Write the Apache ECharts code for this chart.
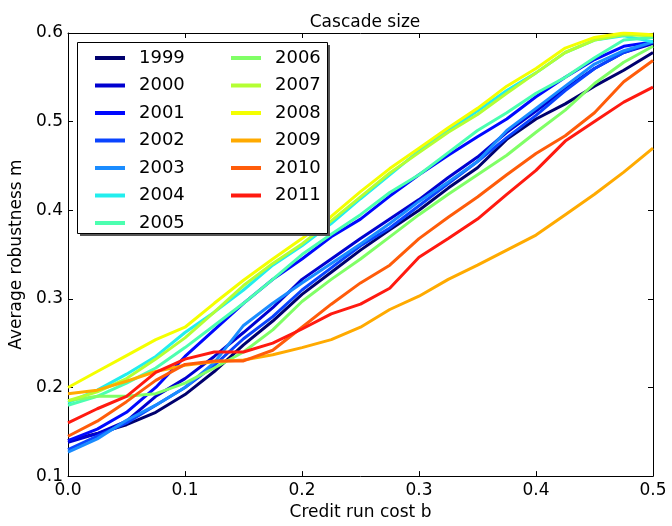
<!DOCTYPE html>
<html>
<head>
<meta charset="utf-8">
<script src="https://cdn.jsdelivr.net/npm/echarts@6/dist/echarts.min.js"></script>
<style>
  html, body { margin: 0; padding: 0; background: #fff; }
  #chart { width: 672px; height: 526px; }
</style>
</head>
<body>
<div id="chart"></div>
<script>
// credit run cost b (x)
const costB = [0, 0.025, 0.05, 0.075, 0.1, 0.125, 0.15, 0.175, 0.2, 0.225, 0.25,
  0.275, 0.3, 0.325, 0.35, 0.375, 0.4, 0.425, 0.45, 0.475, 0.5]

const years = ['1999', '2000', '2001', '2002', '2003', '2004', '2005',
  '2006', '2007', '2008', '2009', '2010', '2011']

// average robustness m per year
const m1999 = [0.140, 0.148, 0.158, 0.172, 0.192, 0.218, 0.248, 0.275, 0.305, 0.330, 0.355,
  0.378, 0.400, 0.425, 0.448, 0.480, 0.503, 0.520, 0.540, 0.558, 0.578]
const m2000 = [0.138, 0.148, 0.162, 0.190, 0.210, 0.235, 0.262, 0.290, 0.322, 0.345, 0.368,
  0.390, 0.412, 0.437, 0.460, 0.488, 0.512, 0.537, 0.560, 0.578, 0.588]
const m2001 = [0.140, 0.153, 0.172, 0.200, 0.235, 0.265, 0.295, 0.322, 0.345, 0.370, 0.390,
  0.416, 0.440, 0.462, 0.483, 0.503, 0.528, 0.550, 0.570, 0.585, 0.590]
const m2002 = [0.130, 0.145, 0.160, 0.180, 0.200, 0.225, 0.255, 0.280, 0.310, 0.335, 0.360,
  0.380, 0.405, 0.430, 0.455, 0.482, 0.507, 0.535, 0.560, 0.578, 0.590]
const m2003 = [0.127, 0.142, 0.163, 0.180, 0.200, 0.228, 0.270, 0.295, 0.318, 0.340, 0.362,
  0.385, 0.410, 0.432, 0.455, 0.490, 0.515, 0.540, 0.565, 0.580, 0.590]
const m2004 = [0.183, 0.197, 0.215, 0.235, 0.262, 0.285, 0.310, 0.338, 0.360, 0.385, 0.413,
  0.440, 0.467, 0.490, 0.512, 0.535, 0.555, 0.578, 0.592, 0.597, 0.590]
const m2005 = [0.180, 0.190, 0.205, 0.222, 0.245, 0.270, 0.295, 0.322, 0.350, 0.373, 0.395,
  0.420, 0.440, 0.465, 0.490, 0.510, 0.532, 0.550, 0.572, 0.592, 0.595]
const m2006 = [0.185, 0.190, 0.190, 0.193, 0.205, 0.222, 0.240, 0.265, 0.297, 0.322, 0.345,
  0.370, 0.395, 0.418, 0.440, 0.462, 0.488, 0.513, 0.543, 0.567, 0.585]
const m2007 = [0.185, 0.195, 0.210, 0.232, 0.256, 0.285, 0.315, 0.340, 0.362, 0.388, 0.415,
  0.442, 0.465, 0.488, 0.508, 0.532, 0.555, 0.578, 0.592, 0.598, 0.597]
const m2008 = [0.200, 0.218, 0.236, 0.254, 0.268, 0.295, 0.321, 0.345, 0.368, 0.393, 0.421,
  0.447, 0.470, 0.493, 0.515, 0.540, 0.560, 0.583, 0.595, 0.600, 0.598]
const m2009 = [0.193, 0.197, 0.207, 0.218, 0.225, 0.229, 0.231, 0.237, 0.245, 0.254, 0.268,
  0.288, 0.303, 0.322, 0.338, 0.355, 0.372, 0.395, 0.418, 0.443, 0.470]
const m2010 = [0.145, 0.162, 0.184, 0.208, 0.226, 0.230, 0.230, 0.242, 0.268, 0.294, 0.318,
  0.338, 0.368, 0.392, 0.415, 0.440, 0.464, 0.484, 0.510, 0.545, 0.569]
const m2011 = [0.160, 0.176, 0.190, 0.217, 0.232, 0.240, 0.240, 0.250, 0.266, 0.283, 0.294,
  0.312, 0.347, 0.368, 0.390, 0.418, 0.445, 0.478, 0.500, 0.522, 0.539]

const robustness = [m1999, m2000, m2001, m2002, m2003, m2004, m2005,
  m2006, m2007, m2008, m2009, m2010, m2011]

const colors = ['#00006e', '#0000d0', '#0008ff', '#0a44ff', '#1a8cff', '#22eeee', '#4cffb0',
  '#80ff66', '#b4ff33', '#f4ff00', '#ffaa00', '#ff5c0a', '#ff1a10']

const xTicks = [0, 0.1, 0.2, 0.3, 0.4, 0.5]
const yTicks = [0.1, 0.2, 0.3, 0.4, 0.5, 0.6]

const font = 'DejaVu Sans'

const chart = echarts.init(document.getElementById('chart'))

const series = years.map((y, k) => ({
  name: y,
  type: 'line',
  showSymbol: false,
  symbol: 'none',
  data: costB.map((b, i) => [b, robustness[k][i]]),
  lineStyle: { color: colors[k], width: 3 },
  itemStyle: { color: colors[k] },
  z: 2 + k,
}))

const axisCommon = {
  type: 'value',
  axisLine: { show: true, onZero: false, lineStyle: { color: '#000', width: 1 } },
  axisTick: { show: true, inside: true, length: 5, lineStyle: { color: '#000' } },
  splitLine: { show: false },
}

const legendCommon = {
  orient: 'vertical',
  icon: 'rect',
  itemWidth: 30,
  itemHeight: 4,
  itemGap: 9.5,
  selectedMode: false,
  z: 20,
  textStyle: { fontFamily: font, fontSize: 18, color: '#000', padding: [0, 0, 0, 9] },
}

const option = {
  animation: false,
  title: {
    text: 'Cascade size',
    left: 360,
    top: 9,
    textAlign: 'center',
    textStyle: { fontFamily: font, fontSize: 17, fontWeight: 'normal', color: '#000' },
  },
  grid: { left: 68, right: 19, top: 33, bottom: 41, containLabel: false },
  xAxis: [
    {
      ...axisCommon,
      min: xTicks[0],
      max: xTicks[xTicks.length - 1],
      interval: 0.1,
      name: 'Credit run cost b',
      nameLocation: 'middle',
      nameGap: 26,
      nameTextStyle: { fontFamily: font, fontSize: 17, color: '#000' },
      axisLabel: {
        fontFamily: font, fontSize: 17, color: '#000', margin: 6,
        formatter: v => v.toFixed(1),
      },
    },
    {
      ...axisCommon,
      position: 'top',
      min: xTicks[0],
      max: xTicks[xTicks.length - 1],
      interval: 0.1,
      axisLabel: { show: false },
    },
  ],
  yAxis: [
    {
      ...axisCommon,
      min: yTicks[0],
      max: yTicks[yTicks.length - 1],
      interval: 0.1,
      name: 'Average robustness m',
      nameLocation: 'middle',
      nameGap: 41,
      nameTextStyle: { fontFamily: font, fontSize: 17, color: '#000' },
      axisLabel: {
        fontFamily: font, fontSize: 17, color: '#000', margin: 5,
        formatter: v => v.toFixed(1),
      },
    },
    {
      ...axisCommon,
      position: 'right',
      min: yTicks[0],
      max: yTicks[yTicks.length - 1],
      interval: 0.1,
      axisLabel: { show: false },
    },
  ],
  legend: [
    { ...legendCommon, data: years.slice(0, 7), left: 90, top: 44 },
    { ...legendCommon, data: years.slice(7), left: 226, top: 44 },
  ],
  graphic: [
    {
      type: 'rect',
      z: 15,
      shape: { x: 80, y: 45, width: 250, height: 191 },
      style: { fill: '#555', stroke: null },
    },
    {
      type: 'rect',
      z: 16,
      shape: { x: 77.5, y: 42.5, width: 250, height: 191 },
      style: { fill: '#fff', stroke: '#000', lineWidth: 1 },
    },
  ],
  series,
}

chart.setOption(option)
</script>
</body>
</html>
